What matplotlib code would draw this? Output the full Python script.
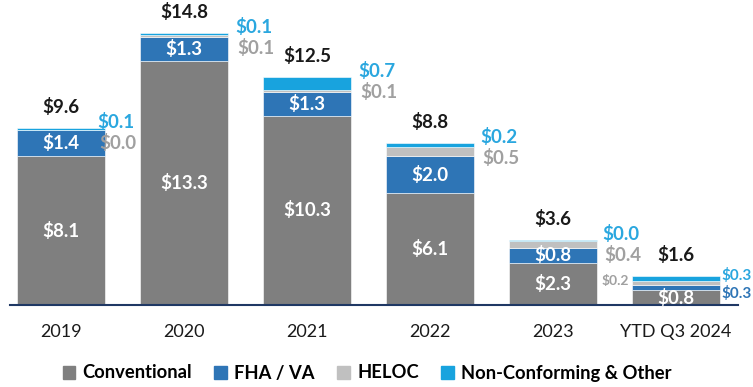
import matplotlib.pyplot as plt
from matplotlib.patches import Patch
import numpy as np

# --- data (billions) ---
years = ["2019", "2020", "2021", "2022", "2023", "YTD Q3 2024"]
conventional = [8.1, 13.3, 10.3, 6.1, 2.3, 0.8]
fha_va = [1.4, 1.3, 1.3, 2.0, 0.8, 0.3]
heloc = [0.02, 0.1, 0.1, 0.5, 0.4, 0.2]
non_conf = [0.1, 0.1, 0.7, 0.2, 0.04, 0.3]
totals = [9.6, 14.8, 12.5, 8.8, 3.6, 1.6]

# --- style ---
C_CONV = "#7f7f7f"
C_FHA = "#2e75b6"
C_HELOC = "#c0c0c0"
C_NONC = "#18a3de"
C_GREY_TXT = "#a0a0a0"
C_BLUE_TXT = "#2aa7df"
FONT = "Lato"
PX = 0.72  # one pixel in points at dpi 100
side_dx = [-8, 7, 7, 6, 5, 1]  # px nudge of the side labels per bar

plt.rcParams["font.family"] = [FONT, "DejaVu Sans"]

fig = plt.figure(figsize=(7.53, 3.87), dpi=100)
ax = fig.add_axes([10 / 753, 1 - 305 / 387, 728 / 753, 305 / 387])

x = np.arange(len(years))
w = 0.715
conv = np.array(conventional)
fha = np.array(fha_va)
hel = np.array(heloc)
nonc = np.array(non_conf)

ax.bar(x, conv, w, color=C_CONV, edgecolor="white", linewidth=0.4)
ax.bar(x, fha, w, bottom=conv, color=C_FHA, edgecolor="white", linewidth=0.4)
ax.bar(x, hel, w, bottom=conv + fha, color=C_HELOC, edgecolor="white", linewidth=0.4)
ax.bar(x, nonc, w, bottom=conv + fha + hel, color=C_NONC, edgecolor="white", linewidth=0.4)

top = conv + fha + hel + nonc
n = len(years)
LS = 13.5
for i in range(n):
    # total above bar
    ax.annotate(f"${totals[i]:.1f}", (x[i], top[i]), xytext=(0, 21 * PX),
                textcoords="offset points", ha="center", va="center",
                fontsize=LS, fontweight="bold", color="#1a1a1a")
    # inside labels
    ax.text(x[i], conv[i] / 2, f"${conv[i]:.1f}", ha="center", va="center",
            fontsize=LS, fontweight="bold", color="white")
    right = x[i] + w / 2
    dx = side_dx[i] * PX
    if i < n - 1:
        ax.text(x[i], conv[i] + fha[i] / 2, f"${fha[i]:.1f}", ha="center",
                va="center", fontsize=LS, fontweight="bold", color="white")
        ax.annotate(f"${nonc[i]:.1f}", (right, top[i]), xytext=(dx, 6 * PX),
                    textcoords="offset points", ha="left", va="center",
                    fontsize=LS, fontweight="bold", color=C_BLUE_TXT)
        ax.annotate(f"${hel[i]:.1f}", (right, top[i]), xytext=(dx + 2 * PX, -15 * PX),
                    textcoords="offset points", ha="left", va="center",
                    fontsize=LS, fontweight="bold", color=C_GREY_TXT)
    else:
        # small last bar: labels squeezed beside it
        ax.annotate(f"${nonc[i]:.1f}", (right, top[i]), xytext=(dx, 0),
                    textcoords="offset points", ha="left", va="center",
                    fontsize=11, fontweight="bold", color=C_BLUE_TXT)
        ax.annotate(f"${fha[i]:.1f}", (right, top[i]), xytext=(dx, -18 * PX),
                    textcoords="offset points", ha="left", va="center",
                    fontsize=11, fontweight="bold", color=C_FHA)
        ax.annotate(f"${hel[i]:.1f}", (x[i] - w / 2, top[i]), xytext=(-3 * PX, -5 * PX),
                    textcoords="offset points", ha="right", va="center",
                    fontsize=10, fontweight="bold", color=C_GREY_TXT)

ax.set_xlim(-0.415, 5.504)
ax.set_ylim(0, 305 / 18.38)
ax.set_xticks(x)
ax.set_xticklabels(years, fontsize=13, color="#1a1a1a")
ax.tick_params(axis="x", length=0, pad=19 * PX)
ax.set_yticks([])
for s in ["top", "right", "left"]:
    ax.spines[s].set_visible(False)
ax.spines["bottom"].set_color("#1f3864")
ax.spines["bottom"].set_linewidth(1.5)

handles = [Patch(color=C_CONV, label="Conventional"),
           Patch(color=C_FHA, label="FHA / VA"),
           Patch(color=C_HELOC, label="HELOC"),
           Patch(color=C_NONC, label="Non-Conforming & Other")]
fig.legend(handles=handles, loc="center", bbox_to_anchor=(367 / 753, 1 - 373 / 387),
           ncol=4, frameon=False, handlelength=0.7, handleheight=0.7,
           handletextpad=0.4, columnspacing=1.2,
           prop={"family": FONT, "weight": "bold", "size": 13.2})

fig.savefig("out.png", dpi=100)
